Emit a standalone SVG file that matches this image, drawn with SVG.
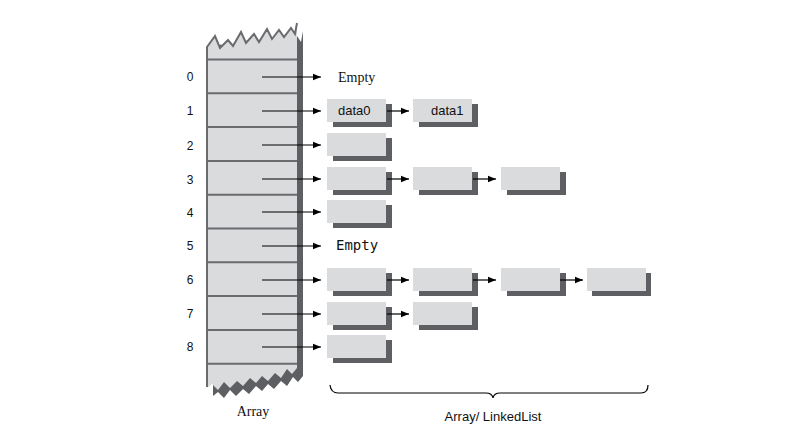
<svg xmlns="http://www.w3.org/2000/svg" width="800" height="448" viewBox="0 0 800 448">
<style>
.idx{font-family:"Liberation Sans","Noto Sans",sans-serif;font-size:12px;fill:#111;text-anchor:middle}
.lbl{font-family:"Liberation Sans","Noto Sans",sans-serif;font-size:13px;fill:#111}
.ser{font-family:"Liberation Serif",serif;font-size:14px;fill:#111}
.mono{font-family:"DejaVu Sans Mono","Liberation Mono",monospace;font-size:14px;fill:#111}
.box{fill:#d9dbdd}
.sh{fill:#5e5f62}
.grid{stroke:#6a6b6e;stroke-width:2}
.arr{stroke:#000;stroke-width:1.2;fill:none;marker-end:url(#ah)}
</style>
<defs>
<marker id="ah" viewBox="0 0 10 10" refX="10" refY="5" markerWidth="8" markerHeight="8" markerUnits="userSpaceOnUse" orient="auto">
<path d="M0,1 L10,5 L0,9 Z" fill="#000"/>
</marker>
</defs>
<rect width="800" height="448" fill="#fff"/>

<g id="array">
<polygon class="sh" transform="translate(6,8)" points="207,47 215,36 220,48 228,40 233,46 241,32 246,43 254,34 259,42 267,29 272,39 279,30 284,37 291,28 295,34 297,23 297,368 292,374 287,369 281,378 275,373 268,381 262,376 256,383 250,378 243,386 237,381 230,388 224,382 218,390 212,384 207,388"/>
<polygon class="box" points="207,47 215,36 220,48 228,40 233,46 241,32 246,43 254,34 259,42 267,29 272,39 279,30 284,37 291,28 295,34 297,23 297,368 292,374 287,369 281,378 275,373 268,381 262,376 256,383 250,378 243,386 237,381 230,388 224,382 218,390 212,384 207,388"/>
<polyline points="207,48 207,47 215,36 220,48 228,40 233,46 241,32 246,43 254,34 259,42 267,29 272,39 279,30 284,37 291,28 295,34 297,23" fill="none" stroke="#6a6b6e" stroke-width="2" stroke-linejoin="miter"/>
<line class="grid" x1="207" y1="47" x2="207" y2="387"/>
<g class="grid">
<line x1="207" y1="59.5" x2="297" y2="59.5"/>
<line x1="207" y1="93.3" x2="297" y2="93.3"/>
<line x1="207" y1="127.1" x2="297" y2="127.1"/>
<line x1="207" y1="160.9" x2="297" y2="160.9"/>
<line x1="207" y1="194.7" x2="297" y2="194.7"/>
<line x1="207" y1="228.5" x2="297" y2="228.5"/>
<line x1="207" y1="262.3" x2="297" y2="262.3"/>
<line x1="207" y1="296.1" x2="297" y2="296.1"/>
<line x1="207" y1="329.9" x2="297" y2="329.9"/>
<line x1="207" y1="363.7" x2="297" y2="363.7"/>
</g>
<text class="ser" x="253" y="416" text-anchor="middle">Array</text>
</g>

<g id="indices">
<text class="idx" x="190" y="81">0</text>
<text class="idx" x="190" y="115">1</text>
<text class="idx" x="190" y="150">2</text>
<text class="idx" x="190" y="184">3</text>
<text class="idx" x="190" y="217">4</text>
<text class="idx" x="190" y="250">5</text>
<text class="idx" x="190" y="284">6</text>
<text class="idx" x="190" y="318">7</text>
<text class="idx" x="190" y="351">8</text>
</g>

<g id="empty0"><text class="ser" x="338" y="82">Empty</text></g>
<g id="empty5"><text class="mono" x="336" y="250">Empty</text></g>

<g id="r1c0"><rect class="sh" x="333" y="104" width="59" height="23"/><rect class="box" x="327" y="99" width="59" height="23"/><text class="lbl" x="338" y="115">data0</text></g>
<g id="r1c1"><rect class="sh" x="419" y="104" width="59" height="23"/><rect class="box" x="413" y="99" width="59" height="23"/><text class="lbl" x="431" y="115">data1</text></g>

<g id="r2c0"><rect class="sh" x="333" y="138" width="59" height="23"/><rect class="box" x="327" y="133" width="59" height="23"/></g>

<g id="r3c0"><rect class="sh" x="333" y="172" width="59" height="23"/><rect class="box" x="327" y="167" width="59" height="23"/></g>
<g id="r3c1"><rect class="sh" x="419" y="172" width="59" height="23"/><rect class="box" x="413" y="167" width="59" height="23"/></g>
<g id="r3c2"><rect class="sh" x="507" y="172" width="59" height="23"/><rect class="box" x="501" y="167" width="59" height="23"/></g>

<g id="r4c0"><rect class="sh" x="333" y="205" width="59" height="23"/><rect class="box" x="327" y="200" width="59" height="23"/></g>

<g id="r6c0"><rect class="sh" x="333" y="273" width="59" height="23"/><rect class="box" x="327" y="268" width="59" height="23"/></g>
<g id="r6c1"><rect class="sh" x="419" y="273" width="59" height="23"/><rect class="box" x="413" y="268" width="59" height="23"/></g>
<g id="r6c2"><rect class="sh" x="507" y="273" width="59" height="23"/><rect class="box" x="501" y="268" width="59" height="23"/></g>
<g id="r6c3"><rect class="sh" x="592" y="273" width="59" height="23"/><rect class="box" x="587" y="268" width="59" height="23"/></g>

<g id="r7c0"><rect class="sh" x="333" y="307" width="59" height="23"/><rect class="box" x="327" y="302" width="59" height="23"/></g>
<g id="r7c1"><rect class="sh" x="419" y="307" width="59" height="23"/><rect class="box" x="413" y="302" width="59" height="23"/></g>

<g id="r8c0"><rect class="sh" x="333" y="340" width="59" height="23"/><rect class="box" x="327" y="335" width="59" height="23"/></g>

<g id="connectors">
<line class="arr" x1="262" y1="77" x2="321" y2="77"/>
<line class="arr" x1="262" y1="111" x2="321" y2="111"/>
<line class="arr" x1="262" y1="145" x2="321" y2="145"/>
<line class="arr" x1="262" y1="179" x2="321" y2="179"/>
<line class="arr" x1="262" y1="212" x2="321" y2="212"/>
<line class="arr" x1="262" y1="246" x2="321" y2="246"/>
<line class="arr" x1="262" y1="280" x2="321" y2="280"/>
<line class="arr" x1="262" y1="314" x2="321" y2="314"/>
<line class="arr" x1="262" y1="347" x2="321" y2="347"/>
<line class="arr" x1="387" y1="111" x2="409" y2="111"/>
<line class="arr" x1="387" y1="179" x2="409" y2="179"/>
<line class="arr" x1="473" y1="179" x2="496" y2="179"/>
<line class="arr" x1="387" y1="280" x2="409" y2="280"/>
<line class="arr" x1="473" y1="280" x2="496" y2="280"/>
<line class="arr" x1="560" y1="280" x2="583" y2="280"/>
<line class="arr" x1="387" y1="314" x2="409" y2="314"/>
</g>

<g id="brace">
<path d="M330,385 Q331,393 338,393 L486,393 Q492,393 493,398 Q494,393 500,393 L641,393 Q648,393 648,385" fill="none" stroke="#000" stroke-width="1.2"/>
<text class="lbl" x="493" y="421" text-anchor="middle">Array/ LinkedList</text>
</g>
</svg>
